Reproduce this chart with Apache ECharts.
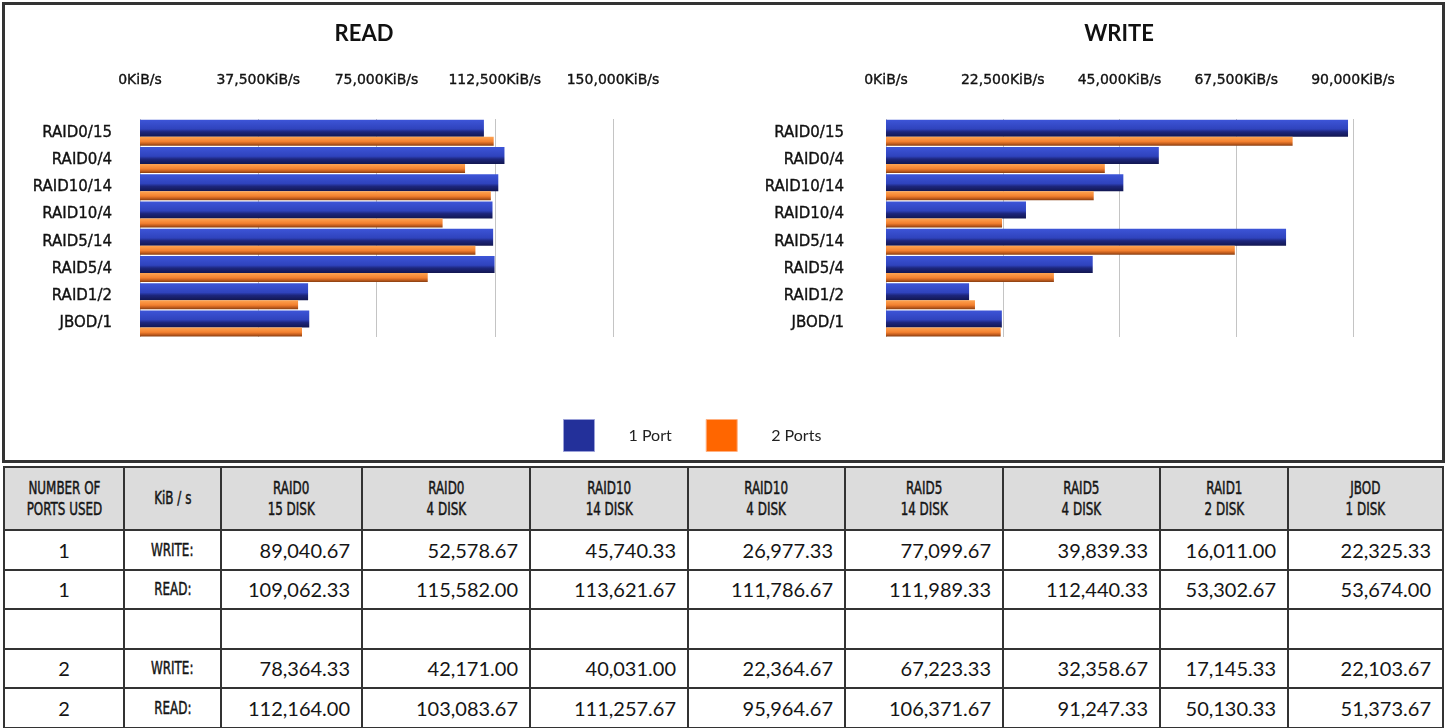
<!DOCTYPE html>
<html>
<head>
<meta charset="utf-8">
<script src="https://cdn.jsdelivr.net/npm/echarts@6/dist/echarts.min.js"></script>
<style>
html,body{margin:0;padding:0;background:#fff;width:1450px;height:728px;overflow:hidden;}
#chart{position:absolute;left:2px;top:2px;width:1443px;height:461px;border:3px solid #333;box-sizing:border-box;}
#tbl{position:absolute;left:3px;top:466px;border-collapse:collapse;table-layout:fixed;width:1441px;}
#tbl td{border:2px solid #333;padding:0;overflow:hidden;white-space:nowrap;color:#151515;}
#tbl tr.head td{background:#dcdcdc;text-align:center;font-family:"DejaVu Sans Condensed","DejaVu Sans",sans-serif;font-size:17px;line-height:21px;height:61px;white-space:normal;}
#tbl tr.row td{height:37.5px;}
#tbl span.cond{display:inline-block;transform:scaleX(0.78);transform-origin:center;-webkit-text-stroke:0.45px #151515;}
#tbl td.num{text-align:right;padding-right:11px;font-family:Lato,"DejaVu Sans",sans-serif;font-size:20px;}
#tbl td.port{text-align:center;font-family:Lato,"DejaVu Sans",sans-serif;font-size:20px;}
#tbl td.kind{text-align:center;font-family:"DejaVu Sans Condensed","DejaVu Sans",sans-serif;font-size:17px;}
</style>
</head>
<body>
<div id="chart"></div>
<table id="tbl"></table>
<script>
// ---------- data ----------
const categories = ['RAID0/15','RAID0/4','RAID10/14','RAID10/4','RAID5/14','RAID5/4','RAID1/2','JBOD/1'];
const read1Port   = [109062.33, 115582.00, 113621.67, 111786.67, 111989.33, 112440.33, 53302.67, 53674.00];
const read2Ports  = [112164.00, 103083.67, 111257.67, 95964.67, 106371.67, 91247.33, 50130.33, 51373.67];
const write1Port  = [89040.67, 52578.67, 45740.33, 26977.33, 77099.67, 39839.33, 16011.00, 22325.33];
const write2Ports = [78364.33, 42171.00, 40031.00, 22364.67, 67223.33, 32358.67, 17145.33, 22103.67];
const seriesNames = ['1 Port', '2 Ports'];
const readAxisMax = 150000, readAxisStep = 37500;
const writeAxisMax = 90000, writeAxisStep = 22500;
const tableHeaders = ['NUMBER OF<br>PORTS USED','KiB / s','RAID0<br>15 DISK','RAID0<br>4 DISK','RAID10<br>14 DISK','RAID10<br>4 DISK','RAID5<br>14 DISK','RAID5<br>4 DISK','RAID1<br>2 DISK','JBOD<br>1 DISK'];
const tableRows = [
  ['1','WRITE:', write1Port],
  ['1','READ:', read1Port],
  null,
  ['2','WRITE:', write2Ports],
  ['2','READ:', read2Ports]
];
const colWidths = [120, 97, 141, 168, 158, 157, 158, 157, 128, 155];

// ---------- table ----------
const fmt = v => v.toLocaleString('en-US', {minimumFractionDigits: 2, maximumFractionDigits: 2});
let html = '<colgroup>' + colWidths.map(w => '<col style="width:' + w + 'px">').join('') + '</colgroup>';
html += '<tr class="head">' + tableHeaders.map(h => '<td><span class="cond">' + h + '</span></td>').join('') + '</tr>';
tableRows.forEach(r => {
  if (!r) { html += '<tr class="row">' + tableHeaders.map(() => '<td></td>').join('') + '</tr>'; return; }
  html += '<tr class="row"><td class="port">' + r[0] + '</td><td class="kind"><span class="cond">' + r[1] + '</span></td>' +
    r[2].map(v => '<td class="num">' + fmt(v) + '</td>').join('') + '</tr>';
});
document.getElementById('tbl').innerHTML = html;

// ---------- chart ----------
const blueFill = new echarts.graphic.LinearGradient(0, 0, 0, 1, [
  {offset: 0, color: '#3d55d8'}, {offset: 0.55, color: '#2f43bd'},
  {offset: 0.72, color: '#1d267c'}, {offset: 1, color: '#121752'}]);
const orangeFill = new echarts.graphic.LinearGradient(0, 0, 0, 1, [
  {offset: 0, color: '#ffa552'}, {offset: 0.55, color: '#f3802f'},
  {offset: 0.8, color: '#c15c1d'}, {offset: 1, color: '#8a3f12'}]);

const axisFont = {fontFamily: '"DejaVu Sans", sans-serif', fontSize: 14, color: '#111',
  textBorderColor: '#111', textBorderWidth: 0.35};
const catFont = {fontFamily: '"DejaVu Sans", sans-serif', fontSize: 15, color: '#111', padding: [5, 0, 0, 0],
  textBorderColor: '#111', textBorderWidth: 0.35};
const kfmt = v => v.toLocaleString('en-US') + 'KiB/s';

function xAx(idx, max, step) {
  return {type: 'value', gridIndex: idx, position: 'top', min: 0, max: max, interval: step,
    axisLine: {show: false}, axisTick: {show: false},
    axisLabel: Object.assign({margin: 32, formatter: kfmt}, axisFont),
    splitLine: {lineStyle: {color: '#c4c4c4', width: 1}}};
}
function yAx(idx, margin) {
  return {type: 'category', gridIndex: idx, data: categories, inverse: true,
    axisLine: {show: false}, axisTick: {show: false},
    axisLabel: Object.assign({margin: margin}, catFont)};
}
function bar(name, idx, data, fill, w) {
  return {name: name, type: 'bar', xAxisIndex: idx, yAxisIndex: idx, data: data,
    barWidth: w, barGap: '0%', itemStyle: {color: fill}, silent: true};
}

const chart = echarts.init(document.getElementById('chart'), null, {renderer: 'canvas'});
chart.setOption({
  animation: false,
  title: [
    {text: 'READ', left: 354, top: 13, textAlign: 'center',
     textStyle: {fontFamily: 'Lato, sans-serif', fontWeight: 'bold', fontSize: 22, color: '#111'}},
    {text: 'WRITE', left: 1109, top: 13, textAlign: 'center',
     textStyle: {fontFamily: 'Lato, sans-serif', fontWeight: 'bold', fontSize: 22, color: '#111'}}
  ],
  legend: {
    left: 553, top: 409, itemWidth: 31, itemHeight: 32, itemGap: 34,
    textStyle: {fontFamily: 'Lato, sans-serif', fontSize: 16, color: '#222', padding: [0, 0, 0, 29]},
    data: [
      {name: seriesNames[0], icon: 'rect', itemStyle: {color: '#23309a', borderColor: '#9aa0d8', borderWidth: 1}},
      {name: seriesNames[1], icon: 'rect', itemStyle: {color: '#ff6600', borderColor: '#ffb080', borderWidth: 1}}
    ],
    selectedMode: false
  },
  grid: [
    {left: 135, top: 114, width: 473, height: 218},
    {left: 881, top: 114, width: 467, height: 218}
  ],
  xAxis: [xAx(0, readAxisMax, readAxisStep), xAx(1, writeAxisMax, writeAxisStep)],
  yAxis: [yAx(0, 28), yAx(1, 42)],
  series: [
    bar(seriesNames[0], 0, read1Port, blueFill, 17),
    bar(seriesNames[1], 0, read2Ports, orangeFill, 9),
    bar(seriesNames[0], 1, write1Port, blueFill, 17),
    bar(seriesNames[1], 1, write2Ports, orangeFill, 9)
  ]
});
</script>
</body>
</html>
